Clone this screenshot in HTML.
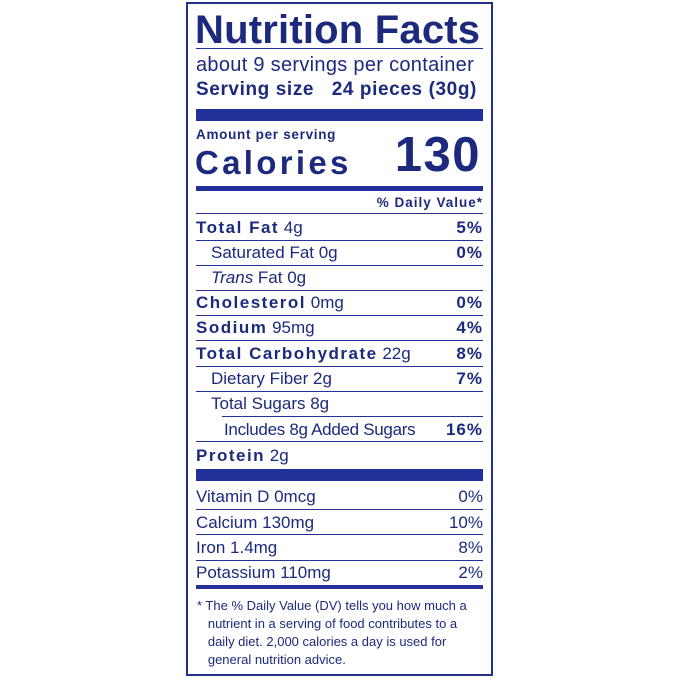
<!DOCTYPE html>
<html><head><meta charset="utf-8"><style>
html,body{margin:0;padding:0;background:#fff;}
body{width:679px;height:679px;position:relative;overflow:hidden;font-family:"Liberation Sans",Arial,sans-serif;color:#1c2a7e;}
.box{position:absolute;left:186px;top:2px;width:303px;height:670px;border:2px solid #22308c;}
.t{position:absolute;white-space:nowrap;line-height:1;}
.r{right:196px;text-align:right;}
.l{position:absolute;left:196px;width:287px;background:#22309a;}
b{font-weight:bold;letter-spacing:1.5px;}
.r b{letter-spacing:1px;}
.row{font-size:17px;}
</style></head><body>
<div class="box"></div>
<div class="t" style="left:195px;top:10px;font-size:40px;font-weight:bold;letter-spacing:0.2px;">Nutrition Facts</div>
<div class="l" style="top:48px;height:1px;"></div>
<div class="t" style="left:196px;top:55px;font-size:20px;letter-spacing:0.3px;">about 9 servings per container</div>
<div class="t" style="left:196px;top:80px;font-size:19px;font-weight:bold;letter-spacing:0.6px;">Serving size&nbsp;&nbsp; 24 pieces (30g)</div>
<div class="l" style="top:109px;height:12px;"></div>
<div class="t" style="left:196px;top:128px;font-size:13.5px;font-weight:bold;letter-spacing:0.7px;">Amount per serving</div>
<div class="t" style="left:195px;top:146px;font-size:33px;font-weight:bold;letter-spacing:3.3px;">Calories</div>
<div class="t r" style="top:131px;font-size:49px;font-weight:bold;right:198px;letter-spacing:1.5px;">130</div>
<div class="l" style="top:186px;height:5px;"></div>
<div class="t r" style="top:196px;font-size:13.5px;font-weight:bold;letter-spacing:1px;">% Daily Value*</div>
<div class="l" style="top:213px;height:1px;"></div>

<div class="t row" style="left:196px;top:219px;"><b>Total Fat</b> 4g</div><div class="t r row" style="top:219px;"><b>5%</b></div>
<div class="l" style="top:240px;height:1px;"></div>
<div class="t row" style="left:211px;top:244px;">Saturated Fat 0g</div><div class="t r row" style="top:244px;"><b>0%</b></div>
<div class="l" style="top:265px;height:1px;"></div>
<div class="t row" style="left:211px;top:269px;"><i>Trans</i> Fat 0g</div>
<div class="l" style="top:290px;height:1px;"></div>
<div class="t row" style="left:196px;top:294px;"><b>Cholesterol</b> 0mg</div><div class="t r row" style="top:294px;"><b>0%</b></div>
<div class="l" style="top:315px;height:1px;"></div>
<div class="t row" style="left:196px;top:319px;"><b>Sodium</b> 95mg</div><div class="t r row" style="top:319px;"><b>4%</b></div>
<div class="l" style="top:340px;height:1px;"></div>
<div class="t row" style="left:196px;top:345px;"><b>Total Carbohydrate</b> 22g</div><div class="t r row" style="top:345px;"><b>8%</b></div>
<div class="l" style="top:366px;height:1px;"></div>
<div class="t row" style="left:211px;top:370px;">Dietary Fiber 2g</div><div class="t r row" style="top:370px;"><b>7%</b></div>
<div class="l" style="top:391px;height:1px;"></div>
<div class="t row" style="left:211px;top:395px;">Total Sugars 8g</div>
<div class="l" style="top:416px;height:1px;left:222px;width:261px;"></div>
<div class="t row" style="left:224px;top:421px;letter-spacing:-0.3px;">Includes 8g Added Sugars</div><div class="t r row" style="top:421px;"><b>16%</b></div>
<div class="l" style="top:441px;height:1px;"></div>
<div class="t row" style="left:196px;top:447px;"><b>Protein</b> 2g</div>
<div class="l" style="top:469px;height:12px;"></div>

<div class="t row" style="left:196px;top:488px;">Vitamin D 0mcg</div><div class="t r row" style="top:488px;">0%</div>
<div class="l" style="top:509px;height:1px;"></div>
<div class="t row" style="left:196px;top:514px;">Calcium 130mg</div><div class="t r row" style="top:514px;">10%</div>
<div class="l" style="top:534px;height:1px;"></div>
<div class="t row" style="left:196px;top:539px;">Iron 1.4mg</div><div class="t r row" style="top:539px;">8%</div>
<div class="l" style="top:560px;height:1px;"></div>
<div class="t row" style="left:196px;top:564px;">Potassium 110mg</div><div class="t r row" style="top:564px;">2%</div>
<div class="l" style="top:585px;height:4px;"></div>

<div class="t" style="left:197px;top:597px;font-size:13px;line-height:18px;">* The % Daily Value (DV) tells you how much a<br>&nbsp;&nbsp; nutrient in a serving of food contributes to a<br>&nbsp;&nbsp; daily diet. 2,000 calories a day is used for<br>&nbsp;&nbsp; general nutrition advice.</div>
</body></html>
